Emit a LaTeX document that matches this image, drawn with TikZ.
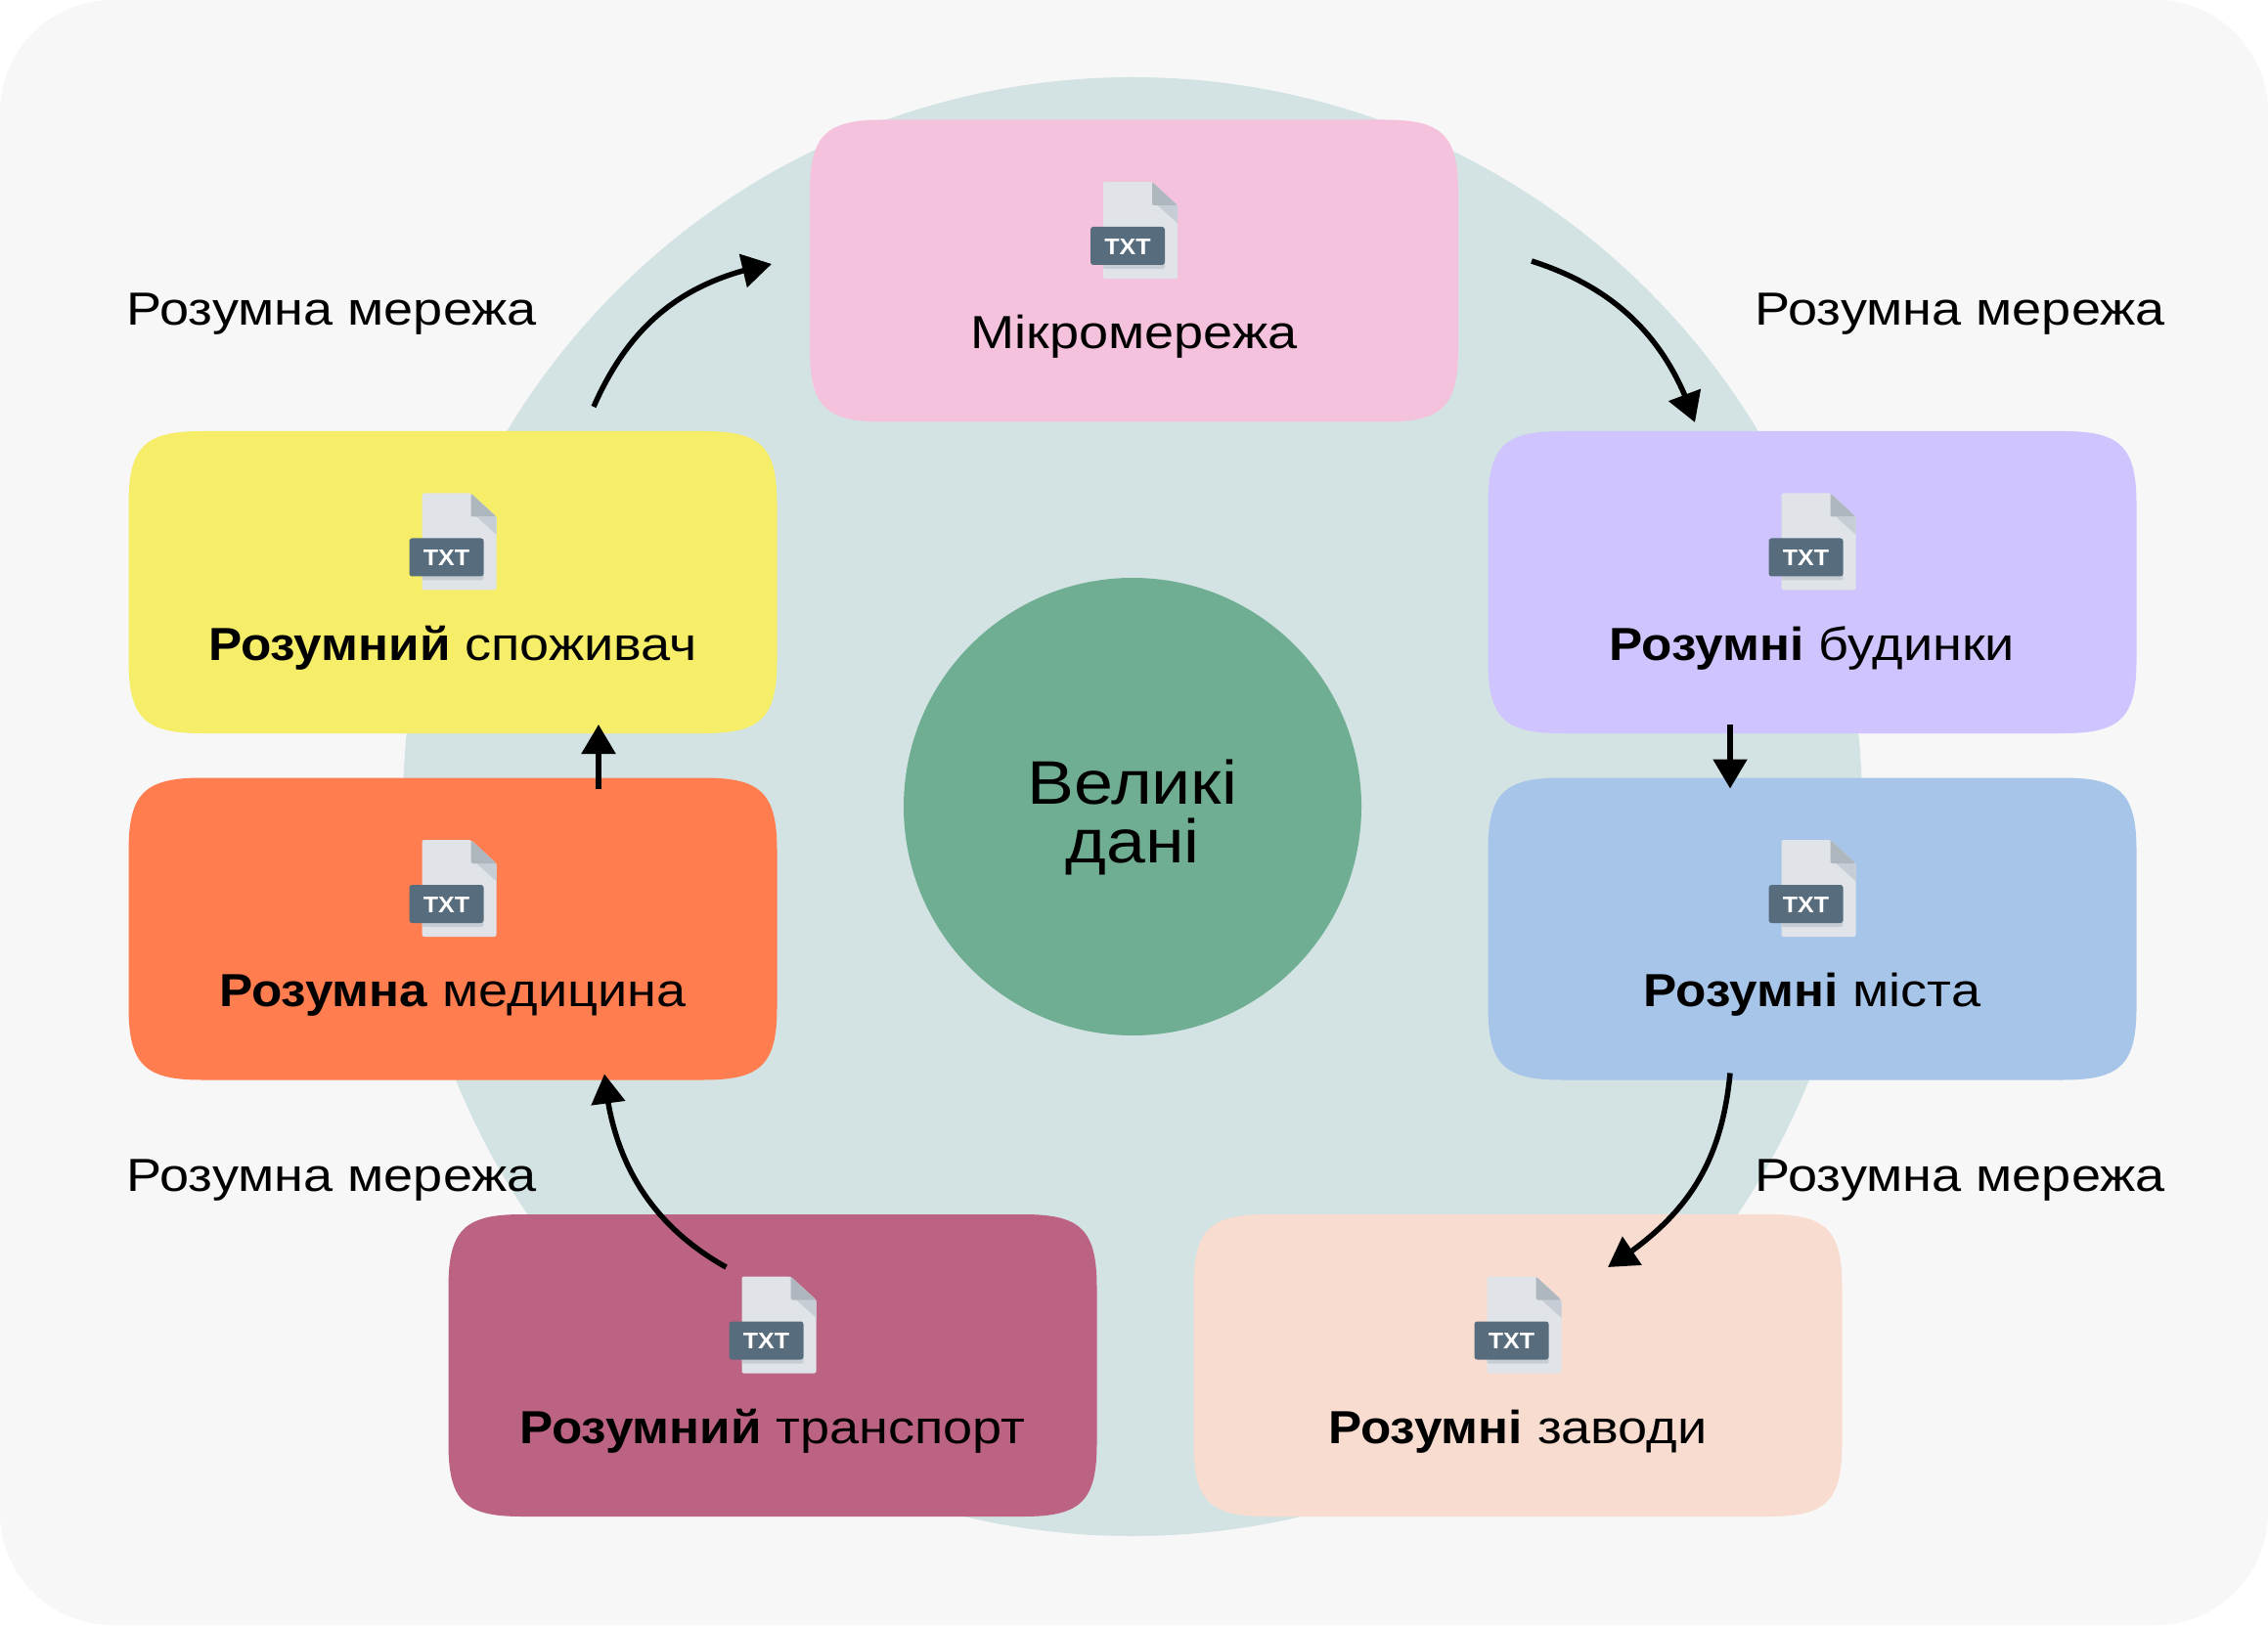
\documentclass[tikz,border=0pt]{standalone}
\usepackage{fontspec}
\setmainfont[FakeStretch=1.14,BoldFeatures={FakeStretch=1.08}]{Liberation Sans}
\usepackage{tikz}
\usetikzlibrary{arrows.meta, calc, bending, positioning}

\definecolor{bgpage}{HTML}{F7F7F7}
\definecolor{bigcircle}{HTML}{D3E3E3}
\definecolor{datacircle}{HTML}{6FAE92}
\definecolor{cPink}{HTML}{F4C2DC}
\definecolor{cYellow}{HTML}{F6EE68}
\definecolor{cOrange}{HTML}{FF7D4F}
\definecolor{cPurple}{HTML}{CFC4FD}
\definecolor{cBlue}{HTML}{A7C5E9}
\definecolor{cPlum}{HTML}{BC6384}
\definecolor{cPeach}{HTML}{F9DCD0}
\definecolor{iconpage}{HTML}{E0E4E8}
\definecolor{iconfold}{HTML}{AEB6BE}
\definecolor{iconshade}{HTML}{C6CDD5}
\definecolor{iconbadge}{HTML}{576D7E}

\newcommand{\boxfill}[2]{
	\fill[#2] ($(#1.north west)+(0.75,0)$)--($(#1.north east)+(-0.75,0)$)
		.. controls ($(#1.north east)+(-0.16,0)$) and ($(#1.north east)+(0,-0.16)$) .. ($(#1.north east)+(0,-0.75)$)
		--($(#1.south east)+(0,0.75)$)
		.. controls ($(#1.south east)+(0,0.16)$) and ($(#1.south east)+(-0.16,0)$) .. ($(#1.south east)+(-0.75,0)$)
		--($(#1.south west)+(0.75,0)$)
		.. controls ($(#1.south west)+(0.16,0)$) and ($(#1.south west)+(0,0.16)$) .. ($(#1.south west)+(0,0.75)$)
		--($(#1.north west)+(0,-0.75)$)
		.. controls ($(#1.north west)+(0,-0.16)$) and ($(#1.north west)+(0.16,0)$) .. cycle;
}

\tikzset{
	boxnode/.style={minimum width=6.63cm, minimum height=3.09cm, inner sep=0pt, outer sep=0pt},
	boxlabel/.style={anchor=base, inner sep=0pt, font=\fontsize{13.5}{15}\selectfont},
	netlabel/.style={anchor=base west, inner sep=0pt, font=\fontsize{13.5}{15}\selectfont},
	flow/.style={-{Triangle[length=0.30cm, width=0.34cm]}, line width=0.055cm},
	txticon/.pic={
		\fill[iconpage, rounded corners=0.6pt] (0,0)--(0.50,0)--(0.76,-0.24)--(0.76,-0.99)--(0,-0.99)--cycle;
		\fill[iconshade] (0.557,-0.24)--(0.76,-0.24)--(0.76,-0.423)--cycle;
		\fill[iconfold, rounded corners=0.6pt] (0.50,0)--(0.76,-0.24)--(0.50,-0.24)--cycle;
		\fill[iconshade, rounded corners=0.6pt] (0,-0.80)--(0.63,-0.80)--(0.63,-0.89)--(0,-0.89)--cycle;
		\fill[iconbadge, rounded corners=0.8pt] (-0.13,-0.46) rectangle (0.63,-0.85);
		\node[text=white, inner sep=0pt, font=\fontsize{6.6}{8}\bfseries] (-txt) at (0.25,-0.665) {TXT};
	}
}

\begin{document}
\begin{tikzpicture}
	\useasboundingbox (0,0) rectangle (23.19,16.62);
	\fill[white] (0,0) rectangle (23.19,16.62);
	\fill[bgpage, rounded corners=1.15cm] (0,0) rectangle (23.19,16.62);
	
	\coordinate (C) at (11.58,8.37);
	\coordinate (Pmikro) at (11.595,13.85);
	\coordinate (Pcons) at (4.63,10.665);
	\coordinate (Pbud) at (18.53,10.665);
	\coordinate (Pmed) at (4.63,7.12);
	\coordinate (Pmis) at (18.53,7.12);
	\coordinate (Ptrans) at (7.90,2.655);
	\coordinate (Pzav) at (15.52,2.655);
	
	\node[circle, fill=bigcircle, minimum size=14.92cm, inner sep=0pt] (Big) at (C) {};
	\node[circle, fill=datacircle, minimum size=4.68cm, inner sep=0pt] (Data) at (C) {};
	\node[align=center, inner sep=0pt, font=\fontsize{17.9}{17.2}\selectfont] (DataT) at ($(Data)-(0,0.11)$) {Великі\\дані};
	
	\node[boxnode] (Mikro) at (Pmikro) {};
	\node[boxnode] (Cons) at (Pcons) {};
	\node[boxnode] (Bud) at (Pbud) {};
	\node[boxnode] (Med) at (Pmed) {};
	\node[boxnode] (Mis) at (Pmis) {};
	\node[boxnode] (Trans) at (Ptrans) {};
	\node[boxnode] (Zav) at (Pzav) {};
	
	\boxfill{Mikro}{cPink}
	\boxfill{Cons}{cYellow}
	\boxfill{Bud}{cPurple}
	\boxfill{Med}{cOrange}
	\boxfill{Mis}{cBlue}
	\boxfill{Trans}{cPlum}
	\boxfill{Zav}{cPeach}
	
	\pic (IconMikro) at ($(Mikro)+(-0.315,0.91)$) {txticon};
	\pic (IconCons) at ($(Cons)+(-0.315,0.91)$) {txticon};
	\pic (IconBud) at ($(Bud)+(-0.315,0.91)$) {txticon};
	\pic (IconMed) at ($(Med)+(-0.315,0.91)$) {txticon};
	\pic (IconMis) at ($(Mis)+(-0.315,0.91)$) {txticon};
	\pic (IconTrans) at ($(Trans)+(-0.315,0.91)$) {txticon};
	\pic (IconZav) at ($(Zav)+(-0.315,0.91)$) {txticon};
	
	\node[boxlabel] (MikroT) at ($(Mikro)-(0,0.80)$) {Мікромережа};
	\node[boxlabel] (ConsT) at ($(Cons)-(0,0.80)$) {\textbf{Розумний} споживач};
	\node[boxlabel] (BudT) at ($(Bud)-(0,0.80)$) {\textbf{Розумні} будинки};
	\node[boxlabel] (MedT) at ($(Med)-(0,0.79)$) {\textbf{Розумна} медицина};
	\node[boxlabel] (MisT) at ($(Mis)-(0,0.79)$) {\textbf{Розумні} міста};
	\node[boxlabel] (TransT) at ($(Trans)-(0,0.80)$) {\textbf{Розумний} транспорт};
	\node[boxlabel] (ZavT) at ($(Zav)-(0,0.80)$) {\textbf{Розумні} заводи};
	
	\node[netlabel] (Net1) at (1.29,13.29) {Розумна мережа};
	\node[netlabel] (Net2) at (17.94,13.29) {Розумна мережа};
	\node[netlabel] (Net3) at (1.29,4.44) {Розумна мережа};
	\node[netlabel] (Net4) at (17.94,4.44) {Розумна мережа};
	
	\draw[flow] ($(Cons.north)+(1.44,0.25)$) .. controls (6.45,13.32) and (7.00,13.75) .. ($(Mikro.west)+(-0.39,0.07)$);
	\draw[flow] ($(Mikro.east)+(0.75,0.10)$) .. controls (16.60,13.65) and (17.08,13.07) .. ($(Bud.north)+(-1.20,0.09)$);
	\draw[flow] ($(Bud.south)+(-0.84,0.09)$)--($(Mis.north)+(-0.84,-0.11)$);
	\draw[flow] ($(Mis.south)+(-0.84,0.07)$) .. controls (17.60,4.72) and (17.25,4.17) .. ($(Zav.north)+(0.92,-0.54)$);
	\draw[flow] ($(Trans.north)+(-0.475,-0.54)$) .. controls (6.60,4.12) and (6.25,4.82) .. ($(Med.south)+(1.55,0.06)$);
	\draw[flow] ($(Med.north)+(1.49,-0.11)$)--($(Cons.south)+(1.49,0.09)$);
\end{tikzpicture}
\end{document}
